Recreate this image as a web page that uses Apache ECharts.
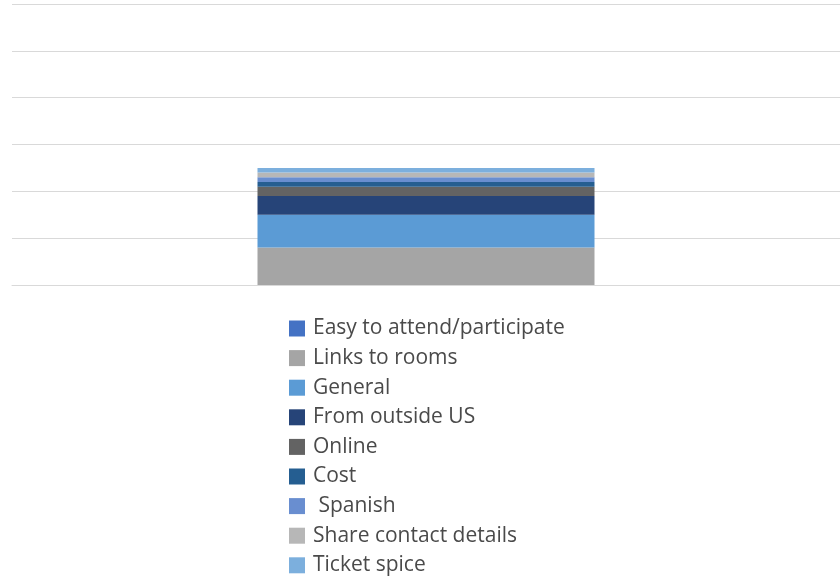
<!DOCTYPE html>
<html>
<head>
<meta charset="utf-8">
<script src="https://cdn.jsdelivr.net/npm/echarts@6/dist/echarts.min.js"></script>
<style>html,body{margin:0;padding:0;background:#fff;}#c{width:840px;height:579px;}</style>
</head>
<body>
<div id="c"></div>
<script>
const categories = ['Responses'];
const seriesNames = ['Easy to attend/participate', 'Links to rooms', 'General', 'From outside US', 'Online', 'Cost', ' Spanish', 'Share contact details', 'Ticket spice'];
const easyToAttend = [0];
const linksToRooms = [8];
const general = [7];
const fromOutsideUS = [4];
const online = [2];
const cost = [1];
const spanish = [1];
const shareContact = [1];
const ticketSpice = [1];
const yTicks = [0, 10, 20, 30, 40, 50, 60];

const values = [easyToAttend, linksToRooms, general, fromOutsideUS, online, cost, spanish, shareContact, ticketSpice];
const colors = ['#4472c4', '#a5a5a5', '#5b9bd5', '#264478', '#636363', '#255e91', '#698ed0', '#b7b7b7', '#7cafdd'];

const chart = echarts.init(document.getElementById('c'), null, {renderer: 'canvas'});
chart.setOption({
  animation: false,
  color: colors,
  grid: {left: 12, right: 0, top: 4, height: 281, containLabel: false},
  xAxis: {
    type: 'category', data: categories,
    axisLine: {show: true, lineStyle: {color: '#d9d9d9', width: 1}},
    axisTick: {show: false}, axisLabel: {show: false}
  },
  yAxis: {
    type: 'value', min: yTicks[0], max: yTicks[yTicks.length - 1], interval: 10,
    axisLine: {show: false}, axisTick: {show: false}, axisLabel: {show: false},
    splitLine: {lineStyle: {color: '#d9d9d9', width: 1}}
  },
  legend: {
    orient: 'vertical', left: 284, top: 313, height: 270,
    icon: 'rect', itemWidth: 16, itemHeight: 16, itemGap: 8.6,
    textStyle: {fontFamily: 'Open Sans', fontSize: 21, color: '#4a4a4a', lineHeight: 20, padding: [0, 0, 0, 3]},
    data: seriesNames
  },
  series: seriesNames.map((n, i) => ({
    name: n, type: 'bar', stack: 'total', barWidth: 337,
    data: values[i]
  }))
});
</script>
</body>
</html>
